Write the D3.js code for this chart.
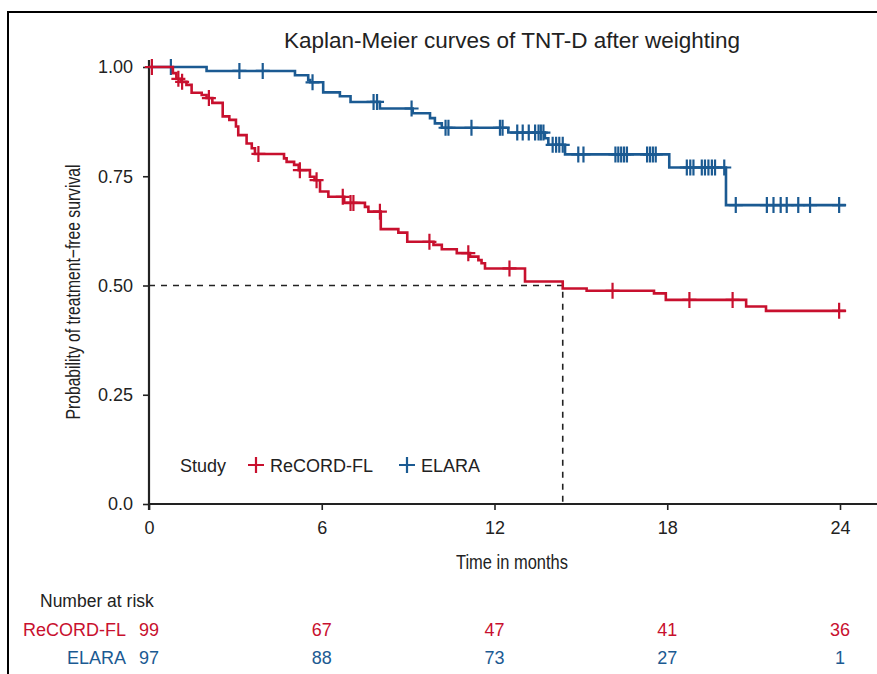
<!DOCTYPE html>
<html>
<head>
<meta charset="utf-8">
<script src="https://cdn.jsdelivr.net/npm/d3@7"></script>
<style>
  body { margin: 0; background: #fff; }
  svg { display: block; }
  text { font-family: "Liberation Sans", Arial, sans-serif; }
</style>
</head>
<body>
<svg id="chart" width="877" height="674"></svg>
<script>
// step points: [time in months, survival after the step]
var recordSteps = [
    [0, 1.0], [0.83, 0.986], [0.95, 0.973], [1.1, 0.966], [1.3, 0.959],
    [1.48, 0.941], [1.83, 0.936], [2.0, 0.929], [2.2, 0.918], [2.56, 0.887],
    [2.79, 0.879], [3.02, 0.864], [3.1, 0.844], [3.39, 0.825], [3.57, 0.814],
    [3.68, 0.801], [4.69, 0.791], [4.78, 0.783], [5.04, 0.776], [5.2, 0.764],
    [5.59, 0.749], [5.75, 0.741], [5.94, 0.715], [6.23, 0.703], [6.78, 0.689],
    [7.5, 0.68], [7.62, 0.669], [8.05, 0.629], [8.66, 0.621], [8.97, 0.600],
    [9.88, 0.593], [10.17, 0.583], [10.69, 0.574], [11.15, 0.566], [11.44, 0.558],
    [11.55, 0.551], [11.67, 0.539], [13.06, 0.509], [14.37, 0.493], [15.2, 0.488],
    [17.54, 0.482], [17.95, 0.467], [20.74, 0.452], [21.43, 0.442]
];
var recordCensor = [0.1, 1.02, 1.15, 2.08, 3.8, 5.24, 5.82, 6.73, 7.0, 7.1,
    8.02, 9.74, 11.09, 12.52, 16.1, 18.77, 20.27, 23.97];

var elaraSteps = [
    [0, 1.0], [2.0, 0.991], [5.07, 0.981], [5.53, 0.97], [5.6, 0.965],
    [6.05, 0.942], [6.63, 0.933], [7.0, 0.920], [8.02, 0.905], [9.16, 0.894],
    [9.76, 0.883], [9.93, 0.871], [10.17, 0.861], [12.48, 0.850], [13.75, 0.837],
    [13.87, 0.822], [14.45, 0.800], [18.07, 0.770], [20.04, 0.684]
];
var elaraCensor = [0.76, 3.14, 3.95, 5.68, 7.8, 7.92, 9.12, 10.3, 10.4, 11.2,
    12.19, 12.28, 12.79, 12.98, 13.19, 13.41, 13.53, 13.61, 13.7, 14.02, 14.14,
    14.25, 14.37, 14.91, 15.09, 16.2, 16.3, 16.4, 16.5, 16.6, 17.3, 17.4, 17.5,
    17.6, 18.68, 18.8, 18.91, 19.2, 19.31, 19.43, 19.55, 19.66, 19.98, 20.38,
    21.46, 21.69, 21.94, 22.15, 22.55, 22.96, 23.97];

var endTime = 24.2;
var medianTime = 14.37;

var xTicks = [0, 6, 12, 18, 24],
    yTicks = [0, 0.25, 0.5, 0.75, 1];

var riskLabels = ["ReCORD-FL", "ELARA"],
    riskRecord = [99, 67, 47, 41, 36],
    riskElara = [97, 88, 73, 27, 1];

var red = "#C8102E",
    blue = "#1B5A92",
    ink = "#222";

var svg = d3.select("#chart");

var x = d3.scaleLinear().domain([0, 24]).range([149, 840]),
    y = d3.scaleLinear().domain([0, 1]).range([504, 67]);

// frame
svg.append("path")
    .attr("d", "M8,674V12H877")
    .attr("fill", "none")
    .attr("stroke", "#000")
    .attr("stroke-width", 2);

svg.append("text")
    .attr("x", 512)
    .attr("y", 48)
    .attr("text-anchor", "middle")
    .attr("font-size", 22.5)
    .attr("fill", ink)
    .text("Kaplan-Meier curves of TNT-D after weighting");

// median dashed lines
svg.append("path")
    .attr("d", "M" + x(0) + "," + y(0.5) + "H" + x(medianTime) + "V" + y(0))
    .attr("fill", "none")
    .attr("stroke", ink)
    .attr("stroke-width", 1.6)
    .attr("stroke-dasharray", "6,6");

// axes
var xAxis = svg.append("g")
    .attr("transform", "translate(0," + y(0) + ")")
    .call(d3.axisBottom(x).tickValues(xTicks).tickSize(6).tickPadding(11));
xAxis.select(".domain").remove();
xAxis.append("line")
    .attr("x1", x(0) - 1).attr("x2", 877)
    .attr("stroke", ink).attr("stroke-width", 2.2);

var yAxis = svg.append("g")
    .attr("transform", "translate(" + x(0) + ",0)")
    .call(d3.axisLeft(y).tickValues(yTicks).tickSize(6).tickPadding(10)
        .tickFormat(function(d) { return d === 0 ? "0.0" : d3.format(".2f")(d); }));
yAxis.select(".domain").remove();
yAxis.append("line")
    .attr("y1", 60).attr("y2", y(0) + 6)
    .attr("stroke", ink).attr("stroke-width", 2.2);

svg.selectAll(".tick line").attr("stroke", ink).attr("stroke-width", 1.6);
svg.selectAll(".tick text")
    .attr("font-size", 18)
    .attr("fill", ink)
    .style("font-family", "'Liberation Sans', Arial, sans-serif");

// condensed axis titles
svg.append("text")
    .attr("x", 512)
    .attr("y", 569)
    .attr("text-anchor", "middle")
    .attr("font-size", 21)
    .attr("fill", ink)
    .attr("textLength", 112)
    .attr("lengthAdjust", "spacingAndGlyphs")
    .text("Time in months");

svg.append("text")
    .attr("transform", "translate(80,292) rotate(-90)")
    .attr("text-anchor", "middle")
    .attr("font-size", 20)
    .attr("fill", ink)
    .attr("textLength", 255)
    .attr("lengthAdjust", "spacingAndGlyphs")
    .text("Probability of treatment\u2212free survival");

// curves
function survAt(steps, t) {
    var s = steps[0][1];
    steps.forEach(function(p) { if (p[0] <= t) s = p[1]; });
    return s;
}

function drawCurve(steps, censor, color) {
    var pts = steps.concat([[endTime, steps[steps.length - 1][1]]]);
    var line = d3.line()
        .x(function(d) { return x(d[0]); })
        .y(function(d) { return y(d[1]); })
        .curve(d3.curveStepAfter);

    svg.append("path")
        .datum(pts)
        .attr("d", line)
        .attr("fill", "none")
        .attr("stroke", color)
        .attr("stroke-width", 2.6);

    svg.append("g").selectAll("path")
        .data(censor)
        .enter().append("path")
        .attr("d", function(t) {
            var cx = x(t), cy = y(survAt(steps, t));
            return "M" + (cx - 7) + "," + cy + "H" + (cx + 7) +
                "M" + cx + "," + (cy - 8) + "V" + (cy + 8);
        })
        .attr("stroke", color)
        .attr("stroke-width", 2.2);
}

drawCurve(elaraSteps, elaraCensor, blue);
drawCurve(recordSteps, recordCensor, red);

// legend
var legend = svg.append("g").attr("transform", "translate(0,465)");
legend.append("text")
    .attr("x", 180).attr("y", 6.5)
    .attr("font-size", 18).attr("fill", ink)
    .text("Study");

[[256, red, "ReCORD-FL"], [407, blue, "ELARA"]].forEach(function(l) {
    legend.append("path")
        .attr("d", "M" + (l[0] - 8) + ",0H" + (l[0] + 8) + "M" + l[0] + ",-8V8")
        .attr("stroke", l[1])
        .attr("stroke-width", 2.2);
    legend.append("text")
        .attr("x", l[0] + 14).attr("y", 6.5)
        .attr("font-size", 18).attr("fill", ink)
        .text(l[2]);
});

// number at risk table
svg.append("text")
    .attr("x", 40).attr("y", 607)
    .attr("font-size", 17.5).attr("fill", ink)
    .text("Number at risk");

[[riskRecord, red, 636], [riskElara, blue, 664]].forEach(function(row, i) {
    svg.append("text")
        .attr("x", 126).attr("y", row[2])
        .attr("text-anchor", "end")
        .attr("font-size", 18).attr("fill", row[1])
        .text(riskLabels[i]);
    svg.append("g").selectAll("text")
        .data(row[0])
        .enter().append("text")
        .attr("x", function(d, j) { return x(xTicks[j]); })
        .attr("y", row[2])
        .attr("text-anchor", "middle")
        .attr("font-size", 18)
        .attr("fill", row[1])
        .text(function(d) { return d; });
});
</script>
</body>
</html>
